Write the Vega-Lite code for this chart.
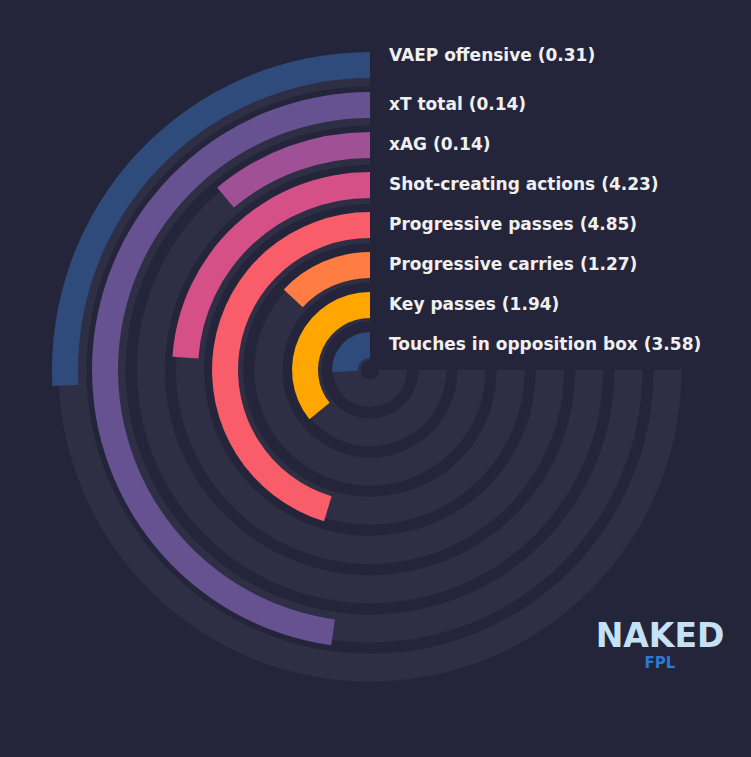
{
  "$schema": "https://vega.github.io/schema/vega-lite/v6.json",
  "width": 740,
  "height": 740,
  "autosize": "none",
  "padding": {"left": 0, "top": 0, "right": 11, "bottom": 17},
  "background": "#24253a",
  "config": {"view": {"stroke": null}},
  "title": {
    "text": "NAKED",
    "subtitle": "FPL",
    "orient": "bottom",
    "anchor": "end",
    "align": "center",
    "dx": -80,
    "offset": -119,
    "font": "DejaVu Sans",
    "fontSize": 33,
    "fontWeight": "bold",
    "color": "#c4e2f4",
    "subtitleFont": "DejaVu Sans",
    "subtitleFontSize": 15,
    "subtitleFontWeight": "bold",
    "subtitleColor": "#2a78d8",
    "subtitlePadding": 2
  },
  "data": {
    "values": [
      {"metric": "VAEP offensive", "value": 0.31, "ring": 8, "pct": 34.4, "label": "VAEP offensive (0.31)"},
      {"metric": "xT total", "value": 0.14, "ring": 7, "pct": 63.7, "label": "xT total (0.14)"},
      {"metric": "xAG", "value": 0.14, "ring": 6, "pct": 14.8, "label": "xAG (0.14)"},
      {"metric": "Shot-creating actions", "value": 4.23, "ring": 5, "pct": 31.9, "label": "Shot-creating actions (4.23)"},
      {"metric": "Progressive passes", "value": 4.85, "ring": 4, "pct": 60.4, "label": "Progressive passes (4.85)"},
      {"metric": "Progressive carries", "value": 1.27, "ring": 3, "pct": 17.4, "label": "Progressive carries (1.27)"},
      {"metric": "Key passes", "value": 1.94, "ring": 2, "pct": 47.8, "label": "Key passes (1.94)"},
      {"metric": "Touches in opposition box", "value": 3.58, "ring": 1, "pct": 34.6, "label": "Touches in opposition box (3.58)"}
    ]
  },
  "resolve": {"scale": {"radius": "independent"}},
  "layer": [
    {
      "mark": {"type": "arc", "radius2Offset": -28, "color": "#2e2f45"},
      "encoding": {
        "theta": {"datum": 100, "type": "quantitative", "scale": {"domain": [0, 100], "range": [6.283185, 1.570796]}},
        "theta2": {"datum": 0},
        "radius": {"field": "ring", "type": "quantitative", "scale": {"type": "linear", "zero": false, "domain": [0, 8], "range": [-2, 311.6]}},
        "radius2": {"field": "ring"}
      }
    },
    {
      "mark": {"type": "arc", "radius2Offset": -26},
      "encoding": {
        "theta": {"field": "pct", "type": "quantitative", "stack": null, "scale": {"domain": [0, 100], "range": [6.283185, 1.570796]}},
        "theta2": {"datum": 0},
        "radius": {"field": "ring", "type": "quantitative", "scale": {"type": "linear", "zero": false, "domain": [0, 8], "range": [-2, 318]}},
        "radius2": {"field": "ring"},
        "color": {
          "field": "metric",
          "type": "nominal",
          "legend": null,
          "scale": {
            "domain": ["VAEP offensive", "xT total", "xAG", "Shot-creating actions", "Progressive passes", "Progressive carries", "Key passes", "Touches in opposition box"],
            "range": ["#2f4b7c", "#665191", "#a05195", "#d45087", "#f95d6a", "#ff7c43", "#ffa600", "#2f4b7c"]
          }
        }
      }
    },
    {
      "transform": [{"filter": "datum.ring < 8"}],
      "mark": {"type": "text", "align": "left", "baseline": "middle", "dx": 19, "dy": 12.5, "font": "DejaVu Sans", "fontWeight": "bold", "fontSize": 17, "color": "#f0f0f0"},
      "encoding": {
        "theta": {"datum": 0, "type": "quantitative", "scale": {"domain": [0, 100], "range": [6.283185, 1.570796]}},
        "radius": {"field": "ring", "type": "quantitative", "scale": {"type": "linear", "zero": false, "domain": [0, 8], "range": [-2, 318]}},
        "text": {"field": "label"}
      }
    },
    {
      "transform": [{"filter": "datum.ring == 8"}],
      "mark": {"type": "text", "align": "left", "baseline": "middle", "dx": 19, "dy": 4, "font": "DejaVu Sans", "fontWeight": "bold", "fontSize": 17, "color": "#f0f0f0"},
      "encoding": {
        "theta": {"datum": 0, "type": "quantitative", "scale": {"domain": [0, 100], "range": [6.283185, 1.570796]}},
        "radius": {"field": "ring", "type": "quantitative", "scale": {"type": "linear", "zero": false, "domain": [0, 8], "range": [-2, 318]}},
        "text": {"field": "label"}
      }
    }
  ]
}
